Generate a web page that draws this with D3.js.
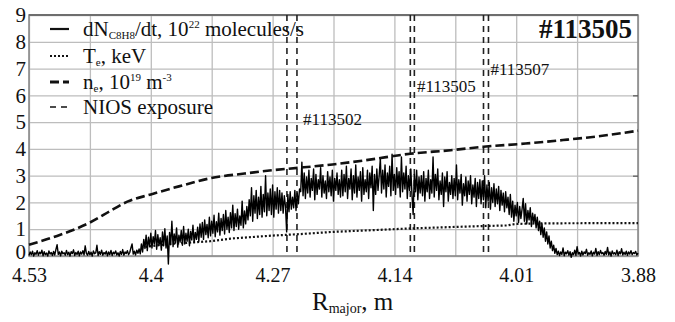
<!DOCTYPE html>
<html><head><meta charset="utf-8">
<script src="https://cdn.jsdelivr.net/npm/d3@7"></script>
<style>body{margin:0;background:#fff}svg{display:block}svg text{font-family:'Liberation Serif','DejaVu Serif','Noto Serif','Times New Roman',Times,serif;fill:#111}</style>
</head><body>
<svg id="c" width="675" height="322"></svg>
<script>
// ---- data ----
const xTickValues = [4.53, 4.4, 4.27, 4.14, 4.01, 3.88];
const xTickLabels = ["4.53", "4.4", "4.27", "4.14", "4.01", "3.88"];
const xGridValues = [4.53, 4.465, 4.4, 4.335, 4.27, 4.205, 4.14, 4.075, 4.01, 3.945, 3.88];
const yTickValues = [0, 1, 2, 3, 4, 5, 6, 7, 8, 9];
const rightTickValues = [3, 6];

// electron density n_e, 10^19 m^-3
const neR = [4.53, 4.50, 4.465, 4.44, 4.425, 4.40, 4.37, 4.337, 4.30, 4.271, 4.24, 4.206, 4.17, 4.123, 4.08, 4.045, 4.00, 3.96, 3.92, 3.88];
const neV = [0.42, 0.75, 1.25, 1.75, 2.03, 2.30, 2.60, 2.90, 3.08, 3.20, 3.30, 3.42, 3.58, 3.82, 3.95, 4.08, 4.20, 4.33, 4.48, 4.68];

// electron temperature T_e, keV
const teR = [4.41, 4.38, 4.337, 4.315, 4.271, 4.24, 4.206, 4.16, 4.123, 4.08, 4.045, 4.02, 4.01, 3.98, 3.88];
const teV = [0.32, 0.45, 0.55, 0.65, 0.76, 0.82, 0.90, 0.97, 1.03, 1.08, 1.12, 1.14, 1.20, 1.22, 1.23];

// dN/dt signal, sampled from R = 4.53 in steps of 0.00125 m
const dnStart = 4.53, dnStep = 0.00125;
const dnV = [
 0.02,0.15,0.05,0.18,0.00,0.12,0.06,0.20,0.03,0.14,
 0.08,0.22,0.01,0.16,0.05,0.11,0.00,0.19,0.07,0.13,
 0.02,0.17,0.04,0.25,0.42,0.06,0.15,0.01,0.18,0.08,
 0.12,0.03,0.21,0.05,0.14,0.00,0.16,0.09,0.23,0.02,
 0.13,0.06,0.18,0.01,0.15,0.07,0.20,0.04,0.38,0.10,
 0.03,0.17,0.05,0.14,0.00,0.19,0.08,0.12,0.40,0.02,
 0.16,0.06,0.22,0.03,0.13,0.07,0.18,0.01,0.15,0.05,
 0.21,0.02,0.14,0.08,0.19,0.04,0.12,0.00,0.17,0.06,
 0.24,0.03,0.15,0.09,0.20,0.05,0.13,0.30,0.45,0.07,
 0.18,0.04,0.22,0.10,0.26,0.08,
 0.45,0.15,0.62,0.28,0.78,0.20,0.70,0.35,
 0.85,0.30,0.72,0.45,0.95,0.25,0.80,0.40,0.68,0.22,
 0.90,0.38,1.02,0.30,0.75,-0.30,0.88,0.42,1.30,0.35,
 0.82,0.48,1.05,0.33,0.78,0.52,0.95,0.40,1.10,0.45,
 0.85,0.55,1.00,0.38,0.92,0.60,1.15,0.50,0.88,0.62,
 1.08,0.55,1.20,
 0.70,1.25,0.62,1.35,0.80,1.18,0.68,1.45,0.75,1.30,
 0.85,1.52,0.72,1.28,0.90,1.60,0.78,1.40,0.95,1.55,
 0.82,1.70,1.00,1.45,0.88,1.62,1.05,1.90,0.95,1.58,
 1.10,1.75,1.00,1.50,1.15,2.05,1.05,1.68,1.20,1.85,
 1.35,2.10,1.50,2.55,1.30,2.25,1.60,2.45,1.40,2.20,
 1.55,2.60,1.45,2.30,1.65,3.00,1.50,2.35,1.70,2.50,
 1.55,2.65,1.45,2.40,1.75,2.55,1.60,2.45,
 1.70,2.35,1.60,2.25,1.85,0.90,2.30,1.65,2.40,1.75,
 2.20,1.80,2.45,1.70,2.35,1.95,2.50,
 2.40,3.50,2.25,3.10,2.15,2.95,2.35,3.20,2.20,2.90,
 2.45,3.25,2.10,3.05,2.30,2.85,2.50,3.30,2.20,3.00,
 2.35,2.80,2.15,3.15,2.40,2.95,2.25,3.20,2.05,2.90,
 2.45,3.10,2.30,2.85,2.20,
 3.20,2.25,3.05,2.40,3.35,2.15,2.90,2.50,3.25,2.10,
 3.00,2.35,3.40,2.20,2.95,2.45,3.15,2.05,3.30,2.30,
 2.85,2.40,3.20,2.15,3.10,2.55,3.35,1.70,3.05,2.30,
 3.25,2.45,3.00,3.65,2.35,3.20,2.50,3.40,2.20,3.10,
 2.60,3.35,2.25,3.80,2.45,3.05,2.30,3.30,2.55,3.15,
 2.20,3.70,2.40,3.10,2.50,3.35,2.15,3.00,2.45,3.25,
 2.30,1.55,3.05,2.40,3.20,2.10,2.95,2.35,
 3.00,2.25,3.15,2.05,2.90,2.40,3.20,2.15,2.85,2.35,
 3.70,2.20,3.05,2.45,3.25,2.10,2.80,2.30,3.10,1.85,
 2.95,2.40,3.15,2.05,2.75,2.30,3.00,2.15,2.90,2.25,
 3.40,2.10,2.85,2.35,3.05,1.90,2.70,2.25,2.95,2.05,
 2.80,2.30,3.00,1.95,2.65,2.20,2.90,1.85,2.75,2.15,
 2.85,
 1.95,2.80,2.10,3.00,1.80,2.65,2.05,2.75,1.75,2.55,
 2.00,2.70,1.85,2.50,1.95,2.60,1.70,2.45,1.90,2.35,
 1.65,2.40,1.80,2.20,1.55,2.30,
 1.45,2.05,1.30,1.90,1.50,2.00,1.25,1.85,1.40,1.75,
 2.15,1.30,1.95,1.20,1.70,1.35,1.80,1.10,1.60,1.25,
 1.55,1.05,1.45,0.95,1.30,
 0.80,1.20,0.70,1.05,0.55,0.90,0.45,0.75,0.30,0.55,
 0.20,0.40,0.10,0.28,0.05,
 0.18,0.02,0.15,0.06,0.30,0.01,0.14,0.08,0.20,0.03,
 0.16,-0.05,0.12,0.05,0.22,0.02,0.35,0.07,0.13,0.00,
 0.18,0.04,0.15,0.09,0.25,0.03,0.12,0.06,0.19,0.01,
 0.14,0.07,0.28,0.02,0.16,0.05,0.21,0.08,0.13,0.03,
 0.17,0.06,0.32,0.04,0.15,0.00,0.19,0.07,0.12,0.05,
 0.22,0.02,0.16,0.08,0.27,0.04,0.14,0.06,0.18,0.03,
 0.15,0.07,0.20,0.05,0.13,0.09,0.17,0.04,0.11
];

// NIOS exposure windows (pairs of R)
const niosR = [4.2547, 4.2440, 4.1230, 4.1187, 4.0449, 4.0396];
const shotLabels = ["#113502", "#113505", "#113507"];
const shotLabelR = [4.2375, 4.1160, 4.0375];
const shotLabelY = [5.1, 6.35, 7.0];
const title = "#113505";

// ---- drawing ----
const FONT = "'Liberation Serif','DejaVu Serif','Noto Serif','Times New Roman',Times,serif";
const svg = d3.select("#c").attr("font-family", FONT);
const L = 29, R = 638, T = 15, B = 256;
const x = d3.scaleLinear().domain([4.53, 3.88]).range([L, R]);
const y = d3.scaleLinear().domain([0, 9]).range([B, T]);

// grid
svg.append("g").attr("transform", `translate(0,${B})`)
  .call(d3.axisBottom(x).tickValues(xGridValues).tickSize(-(B - T)).tickFormat(""))
  .call(g => { g.select(".domain").remove(); g.selectAll("line").attr("stroke", "#bdbdbd").attr("stroke-width", 1.3); });
svg.append("g").attr("transform", `translate(${L},0)`)
  .call(d3.axisLeft(y).tickValues(yTickValues).tickSize(-(R - L)).tickFormat(""))
  .call(g => { g.select(".domain").remove(); g.selectAll("line").attr("stroke", "#bdbdbd").attr("stroke-width", 1.3); });

// frame
svg.append("rect").attr("x", L).attr("y", T).attr("width", R - L).attr("height", B - T)
  .attr("fill", "none").attr("stroke", "#8a8a8a").attr("stroke-width", 1.6);
svg.append("line").attr("x1", L).attr("x2", R).attr("y1", T).attr("y2", T).attr("stroke", "#6e6e6e").attr("stroke-width", 2);

// right ticks
svg.append("g").attr("transform", `translate(${R},0)`)
  .call(d3.axisLeft(y).tickValues(rightTickValues).tickSize(5).tickFormat(""))
  .call(g => { g.select(".domain").remove(); g.selectAll("line").attr("stroke", "#555").attr("stroke-width", 1.2); });

// tick labels
const xa = svg.append("g").attr("transform", `translate(0,${B})`)
  .call(d3.axisBottom(x).tickValues(xTickValues).tickSize(0).tickPadding(12).tickFormat((d, i) => xTickLabels[i]));
xa.attr("font-family", FONT);
xa.select(".domain").remove();
xa.selectAll("text").attr("font-size", 20).attr("fill", "#111").attr("dy", "0.68em");
const ya = svg.append("g").attr("transform", `translate(${L},0)`)
  .call(d3.axisLeft(y).tickValues(yTickValues).tickSize(0).tickPadding(3));
ya.attr("font-family", FONT);
ya.select(".domain").remove();
ya.selectAll("text").attr("font-size", 21).attr("fill", "#111").attr("dy", (d) => d === 0 ? "0.12em" : "0.32em");

// NIOS lines
svg.append("g").selectAll("line").data(niosR).join("line")
  .attr("x1", d => x(d)).attr("x2", d => x(d)).attr("y1", T).attr("y2", B)
  .attr("stroke", "#222").attr("stroke-width", 1.6).attr("stroke-dasharray", "6,5");

// shot labels
svg.append("g").selectAll("text").data(shotLabels).join("text")
  .attr("x", (d, i) => x(shotLabelR[i])).attr("y", (d, i) => y(shotLabelY[i]))
  .attr("dy", "0.35em").attr("font-size", 17).text(d => d);

// Te dotted
svg.append("path").datum(teR.map((r, i) => [r, teV[i]]))
  .attr("d", d3.line().x(d => x(d[0])).y(d => y(d[1])))
  .attr("fill", "none").attr("stroke", "#111").attr("stroke-width", 2.2).attr("stroke-dasharray", "2,2");

// dN solid noisy
svg.append("path").datum(dnV.map((v, i) => [dnStart - dnStep * i, v]))
  .attr("d", d3.line().x(d => x(d[0])).y(d => y(d[1])))
  .attr("fill", "none").attr("stroke", "#000").attr("stroke-width", 1.4).attr("stroke-linejoin", "round");

// ne dashed
svg.append("path").datum(neR.map((r, i) => [r, neV[i]]))
  .attr("d", d3.line().curve(d3.curveMonotoneX).x(d => x(d[0])).y(d => y(d[1])))
  .attr("fill", "none").attr("stroke", "#111").attr("stroke-width", 2.6).attr("stroke-dasharray", "9,4");

// title
svg.append("text").attr("x", 632).attr("y", 38).attr("text-anchor", "end")
  .attr("font-size", 27).attr("font-weight", "bold").text(title);

// legend
const lg = svg.append("g");
const rows = [29, 56, 82, 107];
const styles = [
  {w: 2.2, dash: null},
  {w: 2.2, dash: "2,2"},
  {w: 2.8, dash: "9,4"},
  {w: 1.6, dash: "6,5"}
];
rows.forEach((ry, i) => {
  lg.append("line").attr("x1", 50).attr("x2", 69).attr("y1", ry).attr("y2", ry)
    .attr("stroke", "#111").attr("stroke-width", styles[i].w).attr("stroke-dasharray", styles[i].dash);
});
function addText(yPos, parts) {
  const t = lg.append("text").attr("x", 83).attr("y", yPos + 7).attr("font-size", 21);
  parts.forEach(p => {
    const s = t.append("tspan").text(p.t);
    if (p.small) s.attr("font-size", 11);
    if (p.dy) s.attr("dy", p.dy);
  });
}
addText(rows[0], [{t: "dN"}, {t: "C8H8", small: 1, dy: 3}, {t: "/dt, 10", dy: -3}, {t: "22", small: 1, dy: -8}, {t: " molecules/s", dy: 8}]);
addText(rows[1], [{t: "T"}, {t: "e", small: 1, dy: 3}, {t: ", keV", dy: -3}]);
addText(rows[2], [{t: "n"}, {t: "e", small: 1, dy: 3}, {t: ", 10", dy: -3}, {t: "19", small: 1, dy: -8}, {t: " m", dy: 8}, {t: "-3", small: 1, dy: -8}]);
addText(rows[3], [{t: "NIOS exposure"}]);

// axis title
const at = svg.append("text").attr("x", 312).attr("y", 310).attr("font-size", 25);
at.append("tspan").text("R");
at.append("tspan").attr("font-size", 14).attr("dy", 3).text("major");
at.append("tspan").attr("dy", -3).text(", m");
</script>
</body></html>
